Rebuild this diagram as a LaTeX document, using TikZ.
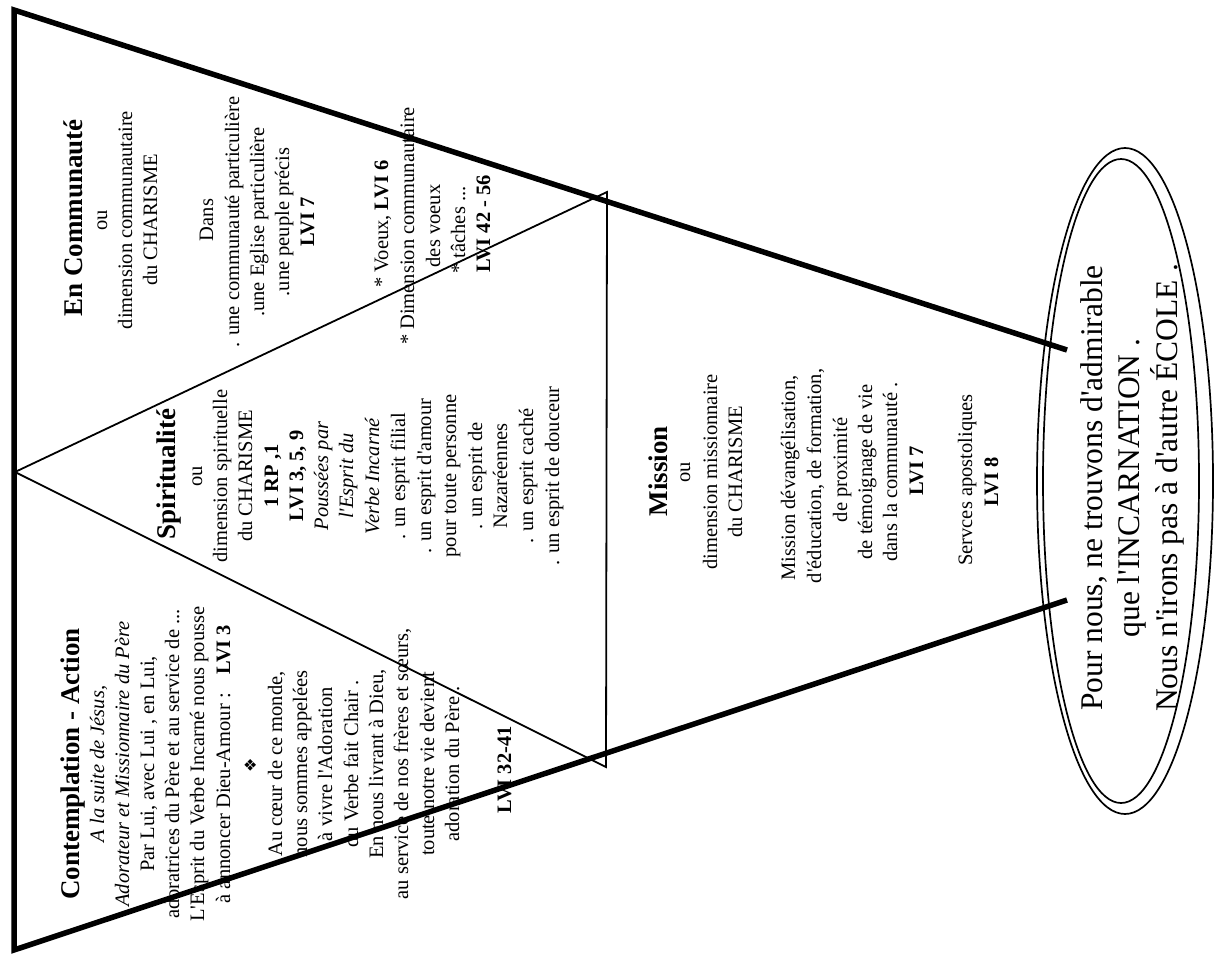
\documentclass[tikz,border=0pt]{standalone}
\usepackage{fontspec}
\setmainfont{Liberation Serif}[Ligatures=TeXOff]
\newfontfamily\symfont{DejaVu Sans}
\begin{document}
\begin{tikzpicture}[x=1pt,y=-1pt,
  heavyline/.style={line width=5.5pt, line join=miter},
  thinline/.style={line width=1.8pt, line join=miter},
  ellline/.style={line width=1.7pt},
  txt/.style={rotate=90, anchor=base, inner sep=0pt, font=\fontsize{20.5}{25}\selectfont},
  ttl/.style={txt, font=\bfseries\fontsize{27}{30}\selectfont},
  bigtxt/.style={txt, font=\fontsize{31.5}{38}\selectfont},
  symb/.style={txt, font=\symfont\fontsize{16}{18}\selectfont}]
\useasboundingbox (0,0) rectangle (1222,955);
\fill[white] (0,0) rectangle (1222,955);
% frame geometry
\coordinate (TL) at (14,10);
\coordinate (BL) at (14,950);
\coordinate (UE) at (1067,350);
\coordinate (LE) at (1067,600);
\coordinate (AP) at (15,472);
\coordinate (TR) at (607,192);
\coordinate (BR) at (606,767);
\draw[thinline] (AP) -- (TR) -- (BR) -- cycle;
\draw[heavyline] (UE) -- (TL) -- (BL) -- (LE);
% ellipses
\draw[ellline] (1125,481) ellipse [x radius=88, y radius=333];
\draw[ellline] (1121,481) ellipse [x radius=78, y radius=322];
% Contemplation - Action
\node[ttl] (c1) at (79,764) {Contemplation - Action};
\node[txt] (c2) at (104,764) {\textit{A la suite de Jésus,}};
\node[txt] (c3) at (129,764) {\textit{Adorateur et Missionnaire du Père}};
\node[txt] (c4) at (154,764) {Par Lui, avec Lui , en Lui,};
\node[txt] (c5) at (179,764) {adoratrices du Père et au service de ...};
\node[txt] (c6) at (204,764) {L'Esprit du Verbe Incarné nous pousse};
\node[txt] (c7) at (230,764) {à annoncer Dieu-Amour :\hspace{0.9em}\textbf{LVI 3}};
\node[symb] (c8) at (256,765) {❖};
\node[txt] (c9) at (282,764) {Au cœur de ce monde,};
\node[txt] (c10) at (307,764) {nous sommes appelées};
\node[txt] (c11) at (332,764) {à vivre l'Adoration};
\node[txt] (c12) at (358,764) {du Verbe fait Chair .};
\node[txt] (c13) at (383,764) {En nous livrant à Dieu,};
\node[txt] (c14) at (408,764) {au service de nos frères et sœurs,};
\node[txt] (c15) at (434,764) {toute notre vie devient};
\node[txt] (c16) at (459,764) {adoration du Père .};
\node[txt] (c17) at (511,770) {\textbf{LVI 32-41}};
% Spiritualite
\node[ttl] (s1) at (175,474) {Spiritualité};
\node[txt] (s2) at (202,476) {ou};
\node[txt] (s3) at (227,476) {dimension spirituelle};
\node[txt] (s4) at (252,476) {du CHARISME};
\node[txt] (s5) at (278,476) {\textbf{1 RP ,1}};
\node[txt] (s6) at (303,476) {\textbf{LVI 3, 5, 9}};
\node[txt] (s7) at (328,476) {\textit{Poussées par}};
\node[txt] (s8) at (353,476) {\textit{l'Esprit du}};
\node[txt] (s9) at (379,476) {\textit{Verbe Incarné}};
\node[txt] (s10) at (405,476) {. un esprit filial};
\node[txt] (s11) at (431,476) {. un esprit d'amour};
\node[txt] (s12) at (456,476) {pour toute personne};
\node[txt] (s13) at (482,476) {. un esprit de};
\node[txt] (s14) at (507,476) {Nazaréennes};
\node[txt] (s15) at (533,476) {. un esprit caché};
\node[txt] (s16) at (559,476) {. un esprit de douceur};
% En Communaute
\node[ttl] (e1) at (82,218) {En Communauté};
\node[txt] (e2) at (107,220) {ou};
\node[txt] (e3) at (132,220) {dimension communautaire};
\node[txt] (e4) at (157,220) {du CHARISME};
\node[txt] (e5) at (213,220) {Dans};
\node[txt] (e6) at (239,222) {. une communauté particulière};
\node[txt] (e7) at (264,222) {.une Eglise particulière};
\node[txt] (e8) at (289,222) {.une peuple précis};
\node[txt] (e9) at (314,222) {\textbf{LVI 7}};
\node[txt] (e10) at (388,224) {* Voeux, \textbf{LVI 6}};
\node[txt] (e11) at (414,226) {* Dimension communautaire};
\node[txt] (e12) at (440,226) {des voeux};
\node[txt] (e13) at (465,230) {* tâches ...};
\node[txt] (e14) at (490,224) {\textbf{LVI 42 - 56}};
% Mission
\node[ttl] (m1) at (667,471) {Mission};
\node[txt] (m2) at (690,472) {ou};
\node[txt] (m3) at (717,472) {dimension missionnaire};
\node[txt] (m4) at (742,472) {du CHARISME};
\node[txt] (m5) at (795,478) {Mission dévangélisation,};
\node[txt] (m6) at (821,476) {d'éducation, de formation,};
\node[txt] (m7) at (847,470) {de proximité};
\node[txt] (m8) at (872,472) {de témoignage de vie};
\node[txt] (m9) at (897,472) {dans la communauté .};
\node[txt] (m10) at (923,471) {\textbf{LVI 7}};
\node[txt] (m11) at (972,480) {Servces apostoliques};
\node[txt] (m12) at (998,482) {\textbf{LVI 8}};
% ellipse text
\node[bigtxt] (t1) at (1102,488) {Pour nous, ne trouvons d'admirable};
\node[bigtxt] (t2) at (1139,488) {que l'INCARNATION .};
\node[bigtxt] (t3) at (1177,488) {Nous n'irons pas à d'autre ÉCOLE .};
\end{tikzpicture}
\end{document}
